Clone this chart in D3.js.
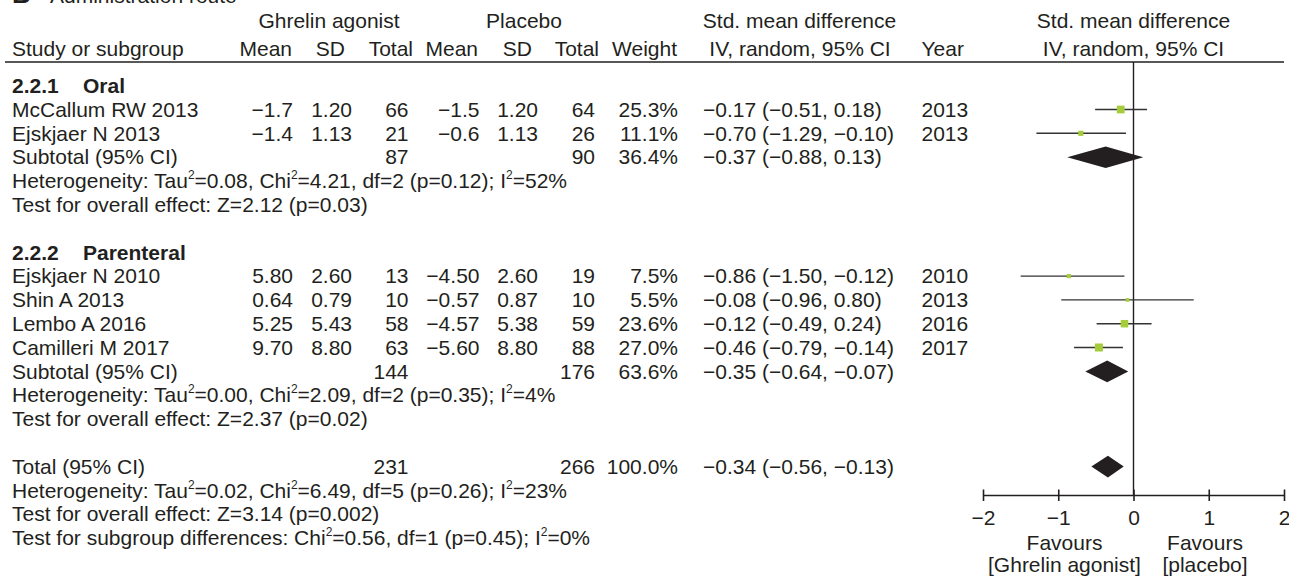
<!DOCTYPE html>
<html>
<head>
<meta charset="utf-8">
<script src="https://cdn.jsdelivr.net/npm/d3@7"></script>
<style>
  html, body { margin: 0; padding: 0; background: #fff; }
  svg text { font-family: "Liberation Sans", Arial, Helvetica, sans-serif; fill: #231f20; }
</style>
</head>
<body>
<svg id="chart" width="1289" height="579"></svg>
<script>
// ---------------- DATA ----------------
const studyNames  = ["McCallum RW 2013", "Ejskjaer N 2013", "Ejskjaer N 2010", "Shin A 2013", "Lembo A 2016", "Camilleri M 2017"];
const studyGroup  = [0, 0, 1, 1, 1, 1];
const studyYears  = [2013, 2013, 2010, 2013, 2016, 2017];
const agMean      = [-1.7, -1.4, 5.80, 0.64, 5.25, 9.70];
const agSD        = [1.20, 1.13, 2.60, 0.79, 5.43, 8.80];
const agN         = [66, 21, 13, 10, 58, 63];
const plMean      = [-1.5, -0.6, -4.50, -0.57, -4.57, -5.60];
const plSD        = [1.20, 1.13, 2.60, 0.87, 5.38, 8.80];
const plN         = [64, 26, 19, 10, 59, 88];
const meanDecimals = [1, 1, 2, 2, 2, 2];
const studyWeight = [25.3, 11.1, 7.5, 5.5, 23.6, 27.0];
const studySMD    = [-0.17, -0.70, -0.86, -0.08, -0.12, -0.46];
const studyLo     = [-0.51, -1.29, -1.50, -0.96, -0.49, -0.79];
const studyHi     = [0.18, -0.10, -0.12, 0.80, 0.24, -0.14];

const groupCodes  = ["2.2.1", "2.2.2"];
const groupNames  = ["Oral", "Parenteral"];
const subAgN      = [87, 144];
const subPlN      = [90, 176];
const subWeight   = [36.4, 63.6];
const subSMD      = [-0.37, -0.35];
const subLo       = [-0.88, -0.64];
const subHi       = [0.13, -0.07];
const subHet      = ["Heterogeneity: Tau^2=0.08, Chi^2=4.21, df=2 (p=0.12); I^2=52%",
                     "Heterogeneity: Tau^2=0.00, Chi^2=2.09, df=2 (p=0.35); I^2=4%"];
const subTest     = ["Test for overall effect: Z=2.12 (p=0.03)",
                     "Test for overall effect: Z=2.37 (p=0.02)"];

const totalAgN = 231, totalPlN = 266, totalWeight = 100.0;
const totalSMD = -0.34, totalLo = -0.56, totalHi = -0.13;
const totalNotes = ["Heterogeneity: Tau^2=0.02, Chi^2=6.49, df=5 (p=0.26); I^2=23%",
                    "Test for overall effect: Z=3.14 (p=0.002)",
                    "Test for subgroup differences: Chi^2=0.56, df=1 (p=0.45); I^2=0%"];

const axisTicks = [-2, -1, 0, 1, 2];
const favourLeft  = ["Favours", "[Ghrelin agonist]"];
const favourRight = ["Favours", "[placebo]"];

// ---------------- LAYOUT ----------------
const svg = d3.select("#chart");
const FS = 21;
const ink = "#231f20";
const lineInk = "#333333";
const green = "#a5cd39";

const x = d3.scaleLinear().domain([-2, 2]).range([983, 1284]);
const rowY = d3.scaleLinear().domain([0, 1]).range([93, 116.8]); // baseline of row i
const sizeScale = d3.scaleSqrt().domain([0, 27]).range([0, 8]);

const col = { study: 12, agMean: 293, agSD: 352, agN: 408.5, plMean: 479.5, plSD: 538, plN: 595, weight: 678, ci: 703, year: 921.5 };

const f1 = d3.format(".1f"), f2 = d3.format(".2f");
const fmtMean = (v, d) => d === 1 ? f1(v) : f2(v);
const fmtCI = (m, l, h) => `${f2(m)} (${f2(l)}, ${f2(h)})`;

function txt(g, xx, yy, s, anchor, opts = {}) {
  const t = g.append("text").attr("x", xx).attr("y", yy)
    .attr("font-size", opts.size || FS)
    .attr("text-anchor", anchor || "start");
  if (opts.bold) t.attr("font-weight", "bold");
  t.text(s);
  return t;
}
function supText(g, xx, yy, s) {
  const t = g.append("text").attr("x", xx).attr("y", yy).attr("font-size", FS);
  const parts = s.split("^2");
  parts.forEach((p, i) => {
    t.append("tspan").text(p).attr("dy", i === 0 ? 0 : 9).attr("font-size", FS);
    if (i < parts.length - 1) {
      t.append("tspan").text("2").attr("font-size", 12).attr("dy", -9);
    }
  });
  return t;
}

const g = svg.append("g");

// Title
txt(g, 12, 3, "B", "start", { bold: true, size: 26 });
txt(g, 50, 3, "Administration route", "start");

// Headers
const h1 = 28, h2 = 56;
txt(g, 329, h1, "Ghrelin agonist", "middle");
txt(g, 524, h1, "Placebo", "middle");
txt(g, 799.5, h1, "Std. mean difference", "middle");
txt(g, x(0), h1, "Std. mean difference", "middle");
txt(g, 12, h2, "Study or subgroup", "start");
txt(g, 292, h2, "Mean", "end");
txt(g, 345, h2, "SD", "end");
txt(g, 413, h2, "Total", "end");
txt(g, 478, h2, "Mean", "end");
txt(g, 532, h2, "SD", "end");
txt(g, 599, h2, "Total", "end");
txt(g, 677, h2, "Weight", "end");
txt(g, 800, h2, "IV, random, 95% CI", "middle");
txt(g, 921.5, h2, "Year", "start");
txt(g, x(0), h2, "IV, random, 95% CI", "middle");

g.append("line").attr("x1", 5).attr("x2", 1284).attr("y1", 62).attr("y2", 62)
  .attr("stroke", ink).attr("stroke-width", 1.4);

// Zero line
const axisY = 495;
g.append("line").attr("x1", x(0)).attr("x2", x(0)).attr("y1", 62).attr("y2", axisY)
  .attr("stroke", ink).attr("stroke-width", 1.4);

// Rows
let row = 0;
const markerOff = 7.3;
groupCodes.forEach((code, gi) => {
  txt(g, 12, rowY(row), code, "start", { bold: true });
  txt(g, 83, rowY(row), groupNames[gi], "start", { bold: true });
  row++;
  studyNames.forEach((name, i) => {
    if (studyGroup[i] !== gi) return;
    const y = rowY(row);
    txt(g, col.study, y, name, "start");
    txt(g, col.agMean, y, fmtMean(agMean[i], meanDecimals[i]), "end");
    txt(g, col.agSD, y, f2(agSD[i]), "end");
    txt(g, col.agN, y, agN[i], "end");
    txt(g, col.plMean, y, fmtMean(plMean[i], meanDecimals[i]), "end");
    txt(g, col.plSD, y, f2(plSD[i]), "end");
    txt(g, col.plN, y, plN[i], "end");
    txt(g, col.weight, y, f1(studyWeight[i]) + "%", "end");
    txt(g, col.ci, y, fmtCI(studySMD[i], studyLo[i], studyHi[i]), "start");
    txt(g, col.year, y, studyYears[i], "start");
    const cy = y - markerOff;
    g.append("line").attr("x1", x(studyLo[i])).attr("x2", x(studyHi[i]))
      .attr("y1", cy).attr("y2", cy).attr("stroke", lineInk).attr("stroke-width", 1.4);
    const s = sizeScale(studyWeight[i]);
    g.append("rect").attr("x", x(studySMD[i]) - s / 2).attr("y", cy - s / 2)
      .attr("width", s).attr("height", s).attr("fill", green);
    row++;
  });
  // subtotal
  const y = rowY(row);
  txt(g, col.study, y, "Subtotal (95% CI)", "start");
  txt(g, col.agN, y, subAgN[gi], "end");
  txt(g, col.plN, y, subPlN[gi], "end");
  txt(g, col.weight, y, f1(subWeight[gi]) + "%", "end");
  txt(g, col.ci, y, fmtCI(subSMD[gi], subLo[gi], subHi[gi]), "start");
  drawDiamond(subSMD[gi], subLo[gi], subHi[gi], y - 7.2);
  row++;
  supText(g, col.study, rowY(row), subHet[gi]); row++;
  txt(g, col.study, rowY(row), subTest[gi], "start"); row++;
  row++; // blank
});

// Total
{
  const y = rowY(row);
  txt(g, col.study, y, "Total (95% CI)", "start");
  txt(g, col.agN, y, totalAgN, "end");
  txt(g, col.plN, y, totalPlN, "end");
  txt(g, col.weight, y, f1(totalWeight) + "%", "end");
  txt(g, col.ci, y, fmtCI(totalSMD, totalLo, totalHi), "start");
  drawDiamond(totalSMD, totalLo, totalHi, y - 7.2);
  row++;
  totalNotes.forEach(n => { supText(g, col.study, rowY(row), n); row++; });
}

function drawDiamond(m, l, h, cy) {
  const hh = 10.8;
  const pts = [[x(l), cy], [x(m), cy - hh], [x(h), cy], [x(m), cy + hh]];
  g.append("path").attr("d", d3.line()(pts) + "Z").attr("fill", ink);
}

// Axis
const axis = d3.axisBottom(x).tickValues(axisTicks).tickFormat(d3.format("d"))
  .tickSizeOuter(0).tickSizeInner(6).tickPadding(9);
const ag = svg.append("g").attr("transform", `translate(0,${axisY})`).call(axis);
ag.select(".domain").attr("stroke", ink).attr("stroke-width", 1.4);
ag.selectAll(".tick line").attr("y1", -5.5).attr("y2", 6).attr("stroke", ink).attr("stroke-width", 1.6);
ag.selectAll(".tick text").attr("font-size", FS).attr("fill", ink)
  .attr("font-family", "\"Liberation Sans\", Arial, sans-serif");

// Favours labels
const fl = (x(-2) + x(0)) / 2 - 3.5, fr = (x(0) + x(2)) / 2 - 3.5;
txt(g, 1064.5, 549.5, favourLeft[0], "middle");
txt(g, 1064.5, 572, favourLeft[1], "middle");
txt(g, 1205, 549.5, favourRight[0], "middle");
txt(g, 1205, 572, favourRight[1], "middle");
</script>
</body>
</html>
